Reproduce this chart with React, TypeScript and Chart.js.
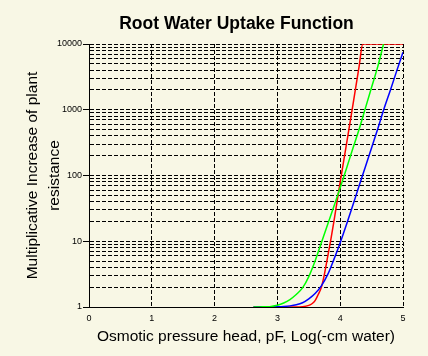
import React, { useEffect, useRef } from 'react';
import { Chart, registerables } from 'chart.js';

Chart.register(...registerables);

const TITLE = 'Root Water Uptake Function';
const X_TITLE = 'Osmotic pressure head, pF, Log(-cm water)';
const Y_TITLE = ['Multiplicative Increase of plant', 'resistance'];

const xTicks = [0, 1, 2, 3, 4, 5];
const yDecades = [1, 10, 100, 1000, 10000];
const yMultipliers = [1, 2, 3, 4, 5, 6, 7, 8, 9];

// green series
const greenX = [2.62, 2.7, 2.8, 2.9, 3.0, 3.1, 3.2, 3.3, 3.4, 3.5, 3.6, 3.7, 3.8, 3.9, 4.0, 4.1, 4.2, 4.3, 4.4, 4.5, 4.6, 4.69];
const greenY = [1, 1, 1.01, 1.02, 1.06, 1.15, 1.3, 1.55, 1.95, 2.9, 5.0, 9.5, 18, 34, 65, 128, 255, 500, 1050, 2200, 4600, 10000];

// blue series
const blueX = [2.62, 2.8, 3.0, 3.1, 3.2, 3.3, 3.4, 3.5, 3.6, 3.7, 3.8, 3.9, 4.0, 4.1, 4.2, 4.3, 4.4, 4.5, 4.6, 4.7, 4.8, 4.9, 5.0];
const blueY = [1, 1, 1.01, 1.02, 1.04, 1.08, 1.16, 1.33, 1.6, 2.1, 3.1, 5.3, 9.5, 18, 35, 69, 135, 265, 520, 1050, 2000, 3900, 7500];

// red series
const redX = [2.62, 3.0, 3.3, 3.4, 3.5, 3.55, 3.6, 3.65, 3.7, 3.75, 3.8, 3.85, 3.9, 4.0, 4.1, 4.2, 4.3, 4.36, 4.5, 4.75, 5.0];
const redY = [1, 1, 1, 1.01, 1.06, 1.12, 1.25, 1.55, 2.0, 3.2, 5.8, 10.5, 20, 80, 300, 1150, 4500, 10000, 10000, 10000, 10000];

const toPoints = (xs: number[], ys: number[]) => xs.map((x, i) => ({ x, y: ys[i] }));

const yTickValues: number[] = [];
yDecades.slice(0, -1).forEach((d) => yMultipliers.forEach((m) => yTickValues.push(d * m)));
yTickValues.push(yDecades[yDecades.length - 1]);

const isDecade = (v: number) => yDecades.some((d) => Math.abs(d - v) < 1e-9);

const FONT = '"Liberation Sans", Arial, Helvetica, sans-serif';
const BG = '#F8F7E5';

const titlePlugin = {
  id: 'mainTitle',
  afterDraw(chart: any) {
    const ctx = chart.ctx;
    ctx.save();
    ctx.font = `bold 17.5px ${FONT}`;
    ctx.fillStyle = '#000';
    ctx.textAlign = 'center';
    ctx.textBaseline = 'alphabetic';
    ctx.fillText(TITLE, 236.5, 28.5);
    ctx.restore();
  },
};

export default function App() {
  const ref = useRef<HTMLCanvasElement | null>(null);

  useEffect(() => {
    if (!ref.current) return;
    Chart.defaults.font.family = FONT;
    const line = (label: string, color: string, xs: number[], ys: number[]) => ({
      label,
      data: toPoints(xs, ys),
      borderColor: color,
      backgroundColor: color,
      borderWidth: 1.5,
      pointRadius: 0,
      cubicInterpolationMode: 'monotone' as const,
      fill: false,
    });
    const chart = new Chart(ref.current, {
      type: 'line',
      data: {
        datasets: [
          line('green', '#00FF00', greenX, greenY),
          line('blue', '#0000FF', blueX, blueY),
          line('red', '#FF0000', redX, redY),
        ],
      },
      options: {
        animation: false,
        responsive: false,
        maintainAspectRatio: false,
        layout: { padding: { top: 44, right: 25, left: 0, bottom: 0 } },
        plugins: {
          legend: { display: false },
          tooltip: { enabled: false },
          title: { display: false },
        },
        scales: {
          x: {
            type: 'linear',
            min: 0,
            max: 5,
            afterBuildTicks: (s: any) => {
              s.ticks = xTicks.map((v) => ({ value: v }));
            },
            afterFit: (s: any) => {
              s.height = 49;
            },
            ticks: {
              stepSize: 1,
              color: '#000',
              font: { size: 9 },
              padding: 0,
              maxRotation: 0,
              autoSkip: false,
            },
            grid: {
              color: '#000',
              lineWidth: 1,
              tickLength: 6,
              tickColor: 'transparent',
            },
            border: { color: '#000', width: 1, dash: [4, 2] },
            title: {
              display: true,
              text: X_TITLE,
              color: '#000',
              font: { size: 15.5 },
              padding: { top: 0, bottom: 10 },
            },
          },
          y: {
            type: 'logarithmic',
            min: 1,
            max: 10000,
            afterBuildTicks: (s: any) => {
              s.ticks = yTickValues.map((v) => ({ value: v, major: isDecade(v) }));
            },
            afterFit: (s: any) => {
              s.width = 89;
            },
            ticks: {
              autoSkip: false,
              color: '#000',
              font: { size: 9 },
              padding: 1,
              callback: (v: any) => (isDecade(Number(v)) ? String(v) : ''),
            },
            grid: {
              color: '#000',
              lineWidth: 1,
              tickLength: 6,
              tickColor: (c: any) => (c.tick && isDecade(c.tick.value) ? '#000' : 'transparent'),
            },
            border: { color: '#000', width: 1, dash: [4, 2] },
            title: {
              display: true,
              text: Y_TITLE,
              color: '#000',
              font: { size: 15.5, lineHeight: '22px' },
              padding: { top: 22, bottom: 0 },
            },
          },
        },
      },
      plugins: [titlePlugin],
    });
    return () => chart.destroy();
  }, []);

  return (
    <div style={{ position: 'fixed', left: 0, top: 0, width: 428, height: 356, background: BG }}>
      <canvas ref={ref} width={428} height={356} style={{ display: 'block' }} />
    </div>
  );
}
